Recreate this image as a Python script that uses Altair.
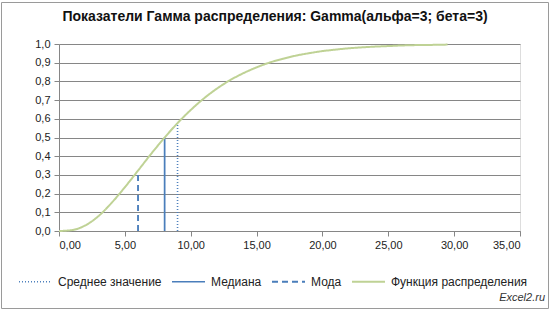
import altair as alt
import pandas as pd

# Distribution function values
cdf_x = [0, 1, 2, 3, 4, 5, 6, 7, 8, 9, 10, 11, 12, 13, 14, 15, 16, 17, 18, 19,
         20, 21, 22, 23, 24, 25, 26, 27, 28, 29, 29.5]
cdf_y = [0.0, 0.005, 0.030, 0.080, 0.151, 0.234, 0.323, 0.413, 0.498, 0.577,
         0.647, 0.709, 0.762, 0.807, 0.844, 0.875, 0.901, 0.921, 0.938, 0.951,
         0.962, 0.970, 0.977, 0.982, 0.986, 0.989, 0.992, 0.994, 0.995, 0.996, 0.997]

# Indicators (vertical lines)
ind_names = ["Среднее значение", "Медиана", "Мода"]
ind_x = [9.0, 8.02, 6.0]
ind_y = [0.577, 0.5, 0.323]

curve_name = "Функция распределения"
series_order = ind_names + [curve_name]
series_colors = ["#4F81BD", "#4A7EBB", "#4A7EBB", "#BFD295"]
series_dash = [[1, 2], [1, 0], [6, 4], [1, 0]]
series_width = [1.6, 2, 2, 3.5]

x_ticks = [0, 5, 10, 15, 20, 25, 30, 35]
y_ticks = [0.0, 0.1, 0.2, 0.3, 0.4, 0.5, 0.6, 0.7, 0.8, 0.9, 1.0]

title = "Показатели Гамма распределения: Gamma(альфа=3; бета=3)"
brand_text = "Excel2.ru"

curve_df = pd.DataFrame({"x": cdf_x, "y": cdf_y, "series": curve_name})
ind_df = pd.DataFrame({"x": ind_x, "y0": [0.0] * 3, "y": ind_y, "series": ind_names})

FONT = "Liberation Sans"

color = alt.Color("series:N", scale=alt.Scale(domain=series_order, range=series_colors),
                  legend=alt.Legend(title=None, orient="none", legendX=-41, legendY=220,
                                    direction="horizontal", symbolType="stroke",
                                    symbolSize=1089, labelFontSize=12, labelFont=FONT,
                                    labelColor="#222222", columnPadding=6, symbolOffset=0,
                                    labelOffset=5))
dash = alt.StrokeDash("series:N", scale=alt.Scale(domain=series_order, range=series_dash),
                      legend=None)
width = alt.StrokeWidth("series:N", scale=alt.Scale(domain=series_order, range=series_width),
                        legend=None)

xscale = alt.Scale(domain=[0, 35], nice=False)
yscale = alt.Scale(domain=[0, 1], nice=False)

xaxis = alt.Axis(values=x_ticks, grid=False, title=None, labelOverlap=False,
                 labelExpr="replace(format(datum.value, '.2f'), '.', ',')",
                 labelFont=FONT, labelFontSize=11, labelColor="#222222",
                 domainColor="#868686", tickColor="#868686", tickSize=5, labelPadding=3)
yaxis = alt.Axis(values=y_ticks, grid=True, gridColor="#868686", labelOverlap=False,
                 title=None, labelExpr="replace(format(datum.value, '.1f'), '.', ',')",
                 labelFont=FONT, labelFontSize=11, labelColor="#222222",
                 domainColor="#868686", tickColor="#868686", tickSize=5, labelPadding=4)

rules = alt.Chart(ind_df).mark_rule().encode(
    x=alt.X("x:Q", scale=xscale, axis=xaxis),
    y=alt.Y("y0:Q", scale=yscale, axis=yaxis),
    y2="y:Q",
    color=color, strokeDash=dash, strokeWidth=width,
)

curve = alt.Chart(curve_df).mark_line(interpolate="monotone").encode(
    x=alt.X("x:Q", scale=xscale, axis=xaxis),
    y=alt.Y("y:Q", scale=yscale, axis=yaxis),
    color=color, strokeDash=dash, strokeWidth=width,
)

frame = alt.Chart(pd.DataFrame({"a": [0]})).mark_rect(
    fill=None, stroke="#9a9a9a", strokeWidth=1
).encode(x=alt.value(-57.5), x2=alt.value(489.5), y=alt.value(-41.5), y2=alt.value(264.5))

title_mark = alt.Chart(pd.DataFrame({"t": [title]})).mark_text(
    align="center", baseline="middle", fontWeight="bold", fontSize=14, font=FONT,
    color="#111111"
).encode(x=alt.value(216), y=alt.value(-27), text="t:N")

brand = alt.Chart(pd.DataFrame({"t": [brand_text]})).mark_text(
    align="right", baseline="middle", fontStyle="italic", fontSize=11, font=FONT,
    color="#333333"
).encode(x=alt.value(486), y=alt.value(254), text="t:N")

chart = alt.layer(rules, curve, frame, title_mark, brand).properties(
    width=461, height=187,
    autosize=alt.AutoSizeParams(type="none"),
    padding={"left": 59, "top": 44, "right": 34, "bottom": 81},
).configure_view(stroke=None).configure(background="white")

chart.save("out.html", embed_options={"renderer": "svg", "actions": False})
